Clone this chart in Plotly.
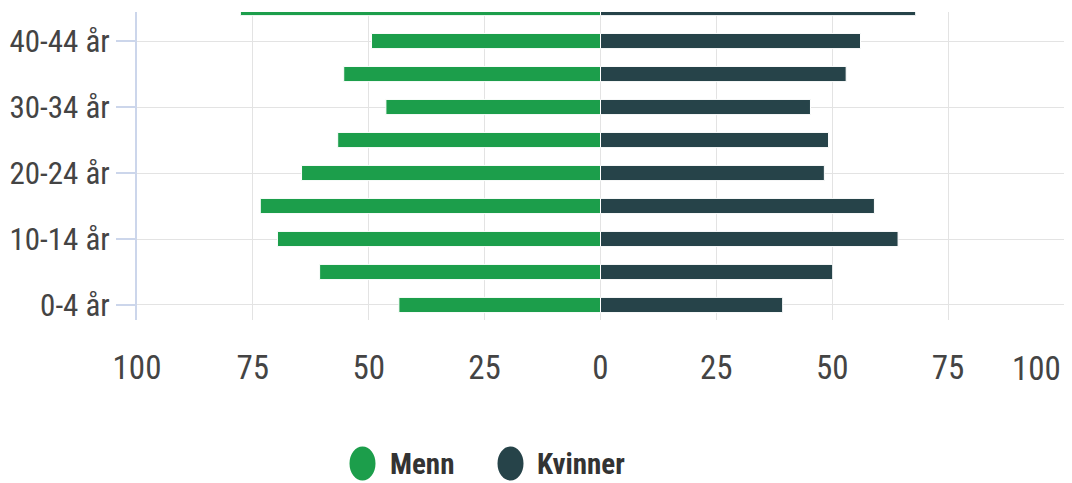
import plotly.graph_objects as go

categories = ["0-4 år", "5-9 år", "10-14 år", "15-19 år", "20-24 år",
              "25-29 år", "30-34 år", "35-39 år", "40-44 år", "45-49 år"]
menn = [43.5, 60.6, 69.7, 73.4, 64.5, 56.7, 46.3, 55.4, 49.4, 77.7]
kvinner = [39.3, 50.1, 64.2, 59.1, 48.3, 49.2, 45.3, 53.0, 56.1, 68.0]
x_ticks = [-100, -75, -50, -25, 0, 25, 50, 75, 100]
x_ticktext = ["100", "75", "50", "25", "0", "25", "50", "75", ""]
x_last_label = "100"
series_names = ["Menn", "Kvinner"]
colors = ["#1c9e4b", "#264349"]

FONT = "Liberation Sans Narrow, Arial Narrow, Roboto Condensed, sans-serif"

fig = go.Figure()
fig.add_trace(go.Bar(y=categories, x=[-v for v in menn], orientation="h",
                     name=series_names[0], marker=dict(color=colors[0], line=dict(color="white", width=1)),
                     width=0.46, showlegend=False))
fig.add_trace(go.Bar(y=categories, x=kvinner, orientation="h",
                     name=series_names[1], marker=dict(color=colors[1], line=dict(color="white", width=1)),
                     width=0.46, showlegend=False))

L, R, T, B = 137, 8, 12, 163
W, H = 1072, 483
pw, ph = W - L - R, H - T - B

def px_to_paper(px, py):
    return (px - L) / pw, (H - B - py) / ph

shapes = []
annotations = []
legend_items = [(362.5, 463.5, 388), (510.5, 463.5, 535)]
for (cx, cy, tx), name, col in zip(legend_items, series_names, colors):
    ax, ay = px_to_paper(cx, cy)
    shapes.append(dict(type="circle", xref="paper", yref="paper", xsizemode="pixel",
                       ysizemode="pixel", xanchor=ax, yanchor=ay, x0=-13, x1=13, y0=-17, y1=17,
                       fillcolor=col, line=dict(width=0)))
    tx_p, ty_p = px_to_paper(tx, cy)
    annotations.append(dict(text="<b>%s</b>" % name, xref="paper", yref="paper", x=tx_p, y=ty_p,
                            xanchor="left", yanchor="middle", showarrow=False,
                            font=dict(family=FONT, size=29, color="#333333")))

# right-most x tick label, pulled inside the chart edge
_, ly = px_to_paper(0, 368.5)
annotations.append(dict(text=x_last_label, xref="x", yref="paper", x=x_ticks[-1], y=ly,
                        xanchor="right", yanchor="middle", xshift=-1, showarrow=False,
                        font=dict(family=FONT, size=33, color="#444444")))

fig.update_layout(
    width=W, height=H,
    margin=dict(l=L, r=R, t=T, b=B, autoexpand=False),
    paper_bgcolor="white", plot_bgcolor="white",
    barmode="overlay",
    shapes=shapes, annotations=annotations,
    showlegend=False,
    xaxis=dict(range=[-100, 100], tickvals=x_ticks, ticktext=x_ticktext,
               showgrid=True, gridcolor="#e3e3e3", gridwidth=1, zeroline=False,
               showline=False, ticks="", ticklabelstandoff=25, automargin=False,
               tickfont=dict(family=FONT, size=33, color="#444444")),
    yaxis=dict(type="category", categoryorder="array", categoryarray=categories,
               range=[-0.455, 8.88], tickvals=categories[::2], automargin=False,
               showgrid=True, gridcolor="#e3e3e3", gridwidth=1, zeroline=False,
               showline=True, linecolor="#ccd6eb", linewidth=2,
               ticks="outside", ticklen=19, tickwidth=2, tickcolor="#ccd6eb",
               ticklabelstandoff=0,
               tickfont=dict(family=FONT, size=31, color="#444444")),
)

fig.write_html("out.html", config={"displayModeBar": False},
               post_script="document.body.style.margin='0';document.body.style.padding='0';")
